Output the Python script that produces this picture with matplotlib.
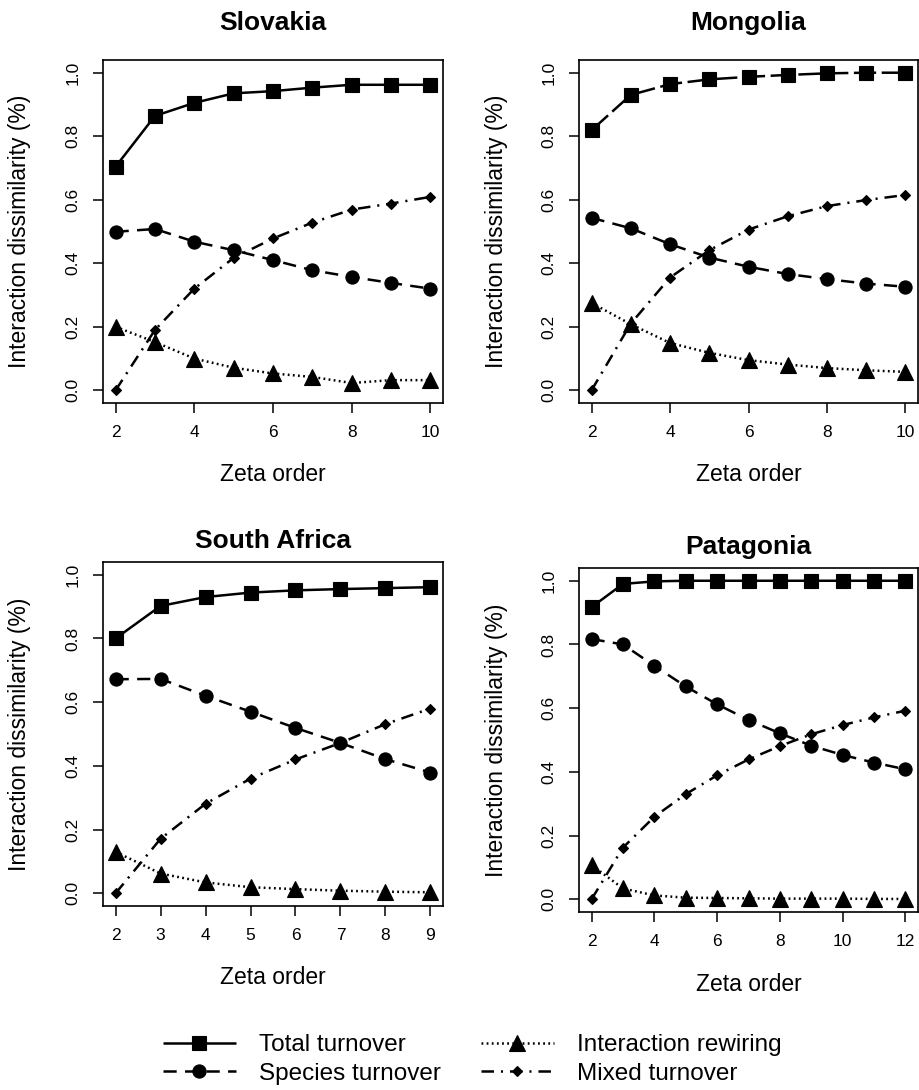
import matplotlib
matplotlib.use('Agg')
import matplotlib.pyplot as plt
from matplotlib.lines import Line2D

plt.rcParams['font.family'] = ['Liberation Sans', 'DejaVu Sans']
plt.rcParams['lines.scale_dashes'] = False

# ---------------- data ----------------
slovakia_x = [2, 3, 4, 5, 6, 7, 8, 9, 10]
slovakia_total = [0.704, 0.864, 0.905, 0.935, 0.942, 0.953, 0.962, 0.962, 0.962]
slovakia_species = [0.499, 0.508, 0.468, 0.441, 0.410, 0.378, 0.357, 0.338, 0.320]
slovakia_rewiring = [0.200, 0.152, 0.100, 0.071, 0.053, 0.042, 0.023, 0.032, 0.032]
slovakia_mixed = [0.000, 0.190, 0.320, 0.417, 0.478, 0.528, 0.569, 0.588, 0.609]
slovakia_ticks = [2, 4, 6, 8, 10]

mongolia_x = [2, 3, 4, 5, 6, 7, 8, 9, 10]
mongolia_total = [0.819, 0.930, 0.964, 0.979, 0.987, 0.993, 0.998, 1.000, 1.000]
mongolia_species = [0.543, 0.510, 0.460, 0.418, 0.389, 0.366, 0.350, 0.336, 0.326]
mongolia_rewiring = [0.275, 0.208, 0.149, 0.118, 0.095, 0.081, 0.070, 0.063, 0.058]
mongolia_mixed = [0.000, 0.210, 0.355, 0.441, 0.506, 0.548, 0.580, 0.599, 0.615]
mongolia_ticks = [2, 4, 6, 8, 10]

safrica_x = [2, 3, 4, 5, 6, 7, 8, 9]
safrica_total = [0.800, 0.902, 0.930, 0.944, 0.951, 0.955, 0.958, 0.961]
safrica_species = [0.672, 0.673, 0.620, 0.570, 0.519, 0.472, 0.421, 0.379]
safrica_rewiring = [0.130, 0.062, 0.034, 0.019, 0.013, 0.008, 0.005, 0.003]
safrica_mixed = [0.000, 0.171, 0.281, 0.360, 0.420, 0.472, 0.531, 0.580]
safrica_ticks = [2, 3, 4, 5, 6, 7, 8, 9]

patagonia_x = [2, 3, 4, 5, 6, 7, 8, 9, 10, 11, 12]
patagonia_total = [0.917, 0.990, 0.998, 1.000, 1.000, 1.000, 1.000, 1.000, 1.000, 1.000, 1.000]
patagonia_species = [0.817, 0.800, 0.733, 0.668, 0.612, 0.563, 0.521, 0.482, 0.453, 0.429, 0.408]
patagonia_rewiring = [0.107, 0.034, 0.012, 0.005, 0.004, 0.003, 0.002, 0.002, 0.002, 0.001, 0.001]
patagonia_mixed = [0.000, 0.162, 0.259, 0.330, 0.389, 0.439, 0.481, 0.518, 0.547, 0.571, 0.592]
patagonia_ticks = [2, 4, 6, 8, 10, 12]

titles = ['Slovakia', 'Mongolia', 'South Africa', 'Patagonia']
series_labels = ['Total turnover', 'Species turnover', 'Interaction rewiring', 'Mixed turnover']
y_ticks = [0.0, 0.2, 0.4, 0.6, 0.8, 1.0]
x_label = 'Zeta order'
y_label = 'Interaction dissimilarity (%)'

# ---------------- styles ----------------
LW = 1.8
styles = [
    dict(linestyle=(0, ()), marker='s', markersize=9.5),
    dict(linestyle=(0, (9.5, 6)), marker='o', markersize=9.5),
    dict(linestyle=(0, (1.3, 2.4)), marker='^', markersize=11.5),
    dict(linestyle=(0, (9, 5, 1.5, 5)), marker='D', markersize=5.4),
]
mongolia_total_ls = (0, (16, 4))

W, H = 919, 1090
fig = plt.figure(figsize=(W / 100, H / 100), dpi=100)

# axes boxes in pixels: left, top, right, bottom
boxes = [(103, 60, 443, 403), (579, 60, 918, 403),
         (103, 562, 443, 906), (579, 568, 918, 912)]
title_gap = [37, 37, 21, 21]

panels = [
    (slovakia_x, [slovakia_total, slovakia_species, slovakia_rewiring, slovakia_mixed], slovakia_ticks),
    (mongolia_x, [mongolia_total, mongolia_species, mongolia_rewiring, mongolia_mixed], mongolia_ticks),
    (safrica_x, [safrica_total, safrica_species, safrica_rewiring, safrica_mixed], safrica_ticks),
    (patagonia_x, [patagonia_total, patagonia_species, patagonia_rewiring, patagonia_mixed], patagonia_ticks),
]

for i, ((xs, ys, xt), box, title) in enumerate(zip(panels, boxes, titles)):
    l, t, r, b = box
    ax = fig.add_axes([l / W, 1 - b / H, (r - l) / W, (b - t) / H])
    hpx = b - t
    wpx = r - l
    for j, (y, st) in enumerate(zip(ys, styles)):
        st = dict(st)
        if i == 1 and j == 0:
            st['linestyle'] = mongolia_total_ls
        ax.plot(xs, y, color='black', linewidth=LW, markeredgewidth=0.8,
                markerfacecolor='black', markeredgecolor='black',
                label=series_labels[j], **st)
    xr = xs[-1] - xs[0]
    ax.set_xlim(xs[0] - 0.04 * xr, xs[-1] + 0.04 * xr)
    ax.set_ylim(-0.04, 1.04)
    ax.set_xticks(xt)
    ax.set_xticklabels([str(v) for v in xt])
    ax.set_yticks(y_ticks)
    ax.set_yticklabels([f'{v:.1f}' for v in y_ticks])
    ax.tick_params(axis='both', direction='out', length=7, width=1.1,
                   labelsize=12.5, color='black')
    ax.tick_params(axis='x', pad=8.5)
    ax.tick_params(axis='y', pad=9, labelrotation=90)
    for lab in ax.get_yticklabels():
        lab.set_va('center')
    for sp in ax.spines.values():
        sp.set_linewidth(1.2)
    ax.set_xlabel(x_label, fontsize=16.5)
    ax.xaxis.set_label_coords(0.5, -72 / hpx)
    ax.xaxis.label.set_va('center')
    ax.set_ylabel(y_label, fontsize=16.5)
    ax.yaxis.set_label_coords(-83 / wpx, 0.5)
    ax.yaxis.label.set_va('center')
    ax.set_title(title, fontsize=19, fontweight='bold', y=1 + title_gap[i] / hpx,
                 va='center', pad=0)

# legend
leg_handles = [Line2D([], [], color='black', linewidth=LW, markeredgewidth=0.8, **st)
               for st in styles]
fig.legend(leg_handles, series_labels, loc='upper left', ncol=2,
           bbox_to_anchor=(163 / W, 1 - 1034 / H), frameon=False,
           fontsize=17.5, handlelength=3.0, handletextpad=0.95,
           columnspacing=1.65, labelspacing=0.28, borderpad=0, borderaxespad=0)

fig.savefig('out.png', dpi=100)
